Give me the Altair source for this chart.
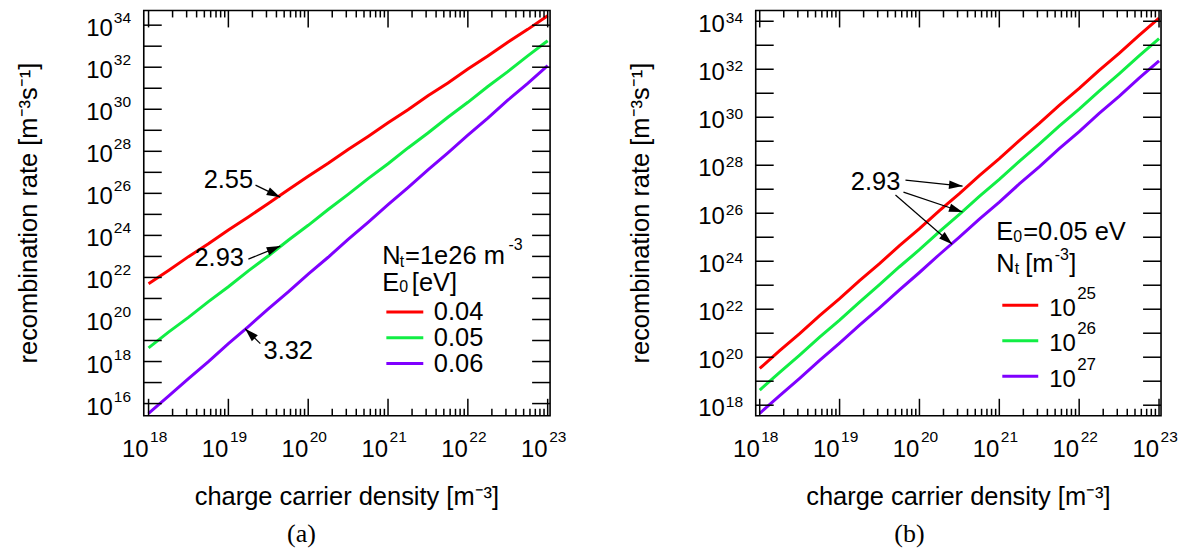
import math
import altair as alt
import pandas as pd

FONT = "Liberation Sans"
SERIF = "Liberation Serif"

# ---------------- data ----------------
# exponent (log10) of the charge carrier density at the computed points
log_density = [18.00, 18.25, 18.50, 18.75, 19.00, 19.25, 19.50, 19.75, 20.00, 20.25,
               20.50, 20.75, 21.00, 21.25, 21.50, 21.75, 22.00, 22.25, 22.50, 22.75, 23.00]

# panel (a): N_t = 1e26 m^-3, three values of E_0 (log10 of recombination rate)
a_series = ["0.04", "0.05", "0.06"]
a_rate_004 = [21.70, 22.33, 22.99, 23.60, 24.26, 24.88, 25.52, 26.17, 26.81, 27.43, 28.09,
              28.71, 29.36, 29.98, 30.64, 31.25, 31.91, 32.53, 33.19, 33.80, 34.45]
a_rate_005 = [18.65, 19.40, 20.10, 20.85, 21.56, 22.31, 23.02, 23.77, 24.48, 25.23, 25.95,
              26.70, 27.41, 28.16, 28.87, 29.62, 30.33, 31.08, 31.79, 32.54, 33.26]
a_rate_006 = [15.53, 16.35, 17.19, 18.00, 18.85, 19.66, 20.50, 21.31, 22.16, 22.96, 23.81,
              24.62, 25.46, 26.27, 27.12, 27.93, 28.77, 29.58, 30.43, 31.23, 32.07]

# panel (b): E_0 = 0.05 eV, three trap densities N_t
b_series = ["1e25", "1e26", "1e27"]
b_series_exp = ["25", "26", "27"]
b_rate_1e25 = [19.53, 20.27, 20.98, 21.73, 22.44, 23.19, 23.90, 24.65, 25.36, 26.11, 26.82,
               27.57, 28.28, 29.03, 29.74, 30.49, 31.20, 31.95, 32.66, 33.41, 34.13]
b_rate_1e26 = [18.63, 19.37, 20.09, 20.84, 21.55, 22.30, 23.02, 23.77, 24.48, 25.23, 25.95,
               26.70, 27.41, 28.16, 28.88, 29.63, 30.34, 31.09, 31.81, 32.56, 33.28]
b_rate_1e27 = [17.66, 18.40, 19.12, 19.87, 20.59, 21.34, 22.06, 22.81, 23.53, 24.28, 25.00,
               25.75, 26.46, 27.22, 27.93, 28.69, 29.40, 30.16, 30.87, 31.63, 32.35]

colors = ["#ff0000", "#11ee44", "#7f00ff"]

# tick values
x_decades = [18, 19, 20, 21, 22, 23]
x_minor_mult = [2, 3, 4, 5, 6, 7, 8, 9]
a_y_decades = [16, 17, 18, 19, 20, 21, 22, 23, 24, 25, 26, 27, 28, 29, 30, 31, 32, 33, 34]
a_y_label_decades = [16, 18, 20, 22, 24, 26, 28, 30, 32, 34]
b_y_decades = [18, 19, 20, 21, 22, 23, 24, 25, 26, 27, 28, 29, 30, 31, 32, 33, 34]
b_y_label_decades = [18, 20, 22, 24, 26, 28, 30, 32, 34]

# annotations (slopes) in log10 data coordinates
a_note_text = ["2.55", "2.93", "3.32"]
a_note_x = [19.00, 18.885, 19.75]
a_note_y = [26.63, 22.93, 18.52]
a_arrow_from_x = [19.34, 19.25, 19.40]
a_arrow_from_y = [26.39, 22.87, 18.85]
a_arrow_to_x = [19.65, 19.65, 19.21]
a_arrow_to_y = [25.82, 23.49, 19.56]

b_note_text = ["2.93"]
b_note_x = [19.45]
b_note_y = [27.29]
b_arrow_from_x = [19.825, 19.80, 19.70]
b_arrow_from_y = [27.38, 26.88, 26.76]
b_arrow_to_x = [20.54, 20.54, 20.41]
b_arrow_to_y = [27.13, 26.05, 24.71]

x_title = "charge carrier density [m\u207b\u00b3]"
y_title = "recombination rate [m\u207b\u00b3s\u207b\u00b9]"

# ---------------- layout constants ----------------
W_A, H_A = 407, 406
W_B, H_B = 406, 406
A_XDOM = (17.94, 23.03)
A_YDOM = (15.42, 34.70)
B_XDOM = (17.95, 23.025)
B_YDOM = (17.56, 34.45)
ARROW = "M0,0L-0.5,1.6L0.5,1.6Z"
TXT = 25.5
EXP = 15.5


def label(text, px, py, size=TXT, align="left", font=FONT, angle=0):
    return alt.Chart(pd.DataFrame({"t": [text]})).mark_text(
        align=align, baseline="alphabetic", fontSize=size, font=font, angle=angle, color="black"
    ).encode(x=alt.value(px), y=alt.value(py), text="t:N")


def swatch(color, x0, x1, y):
    return alt.Chart(pd.DataFrame({"c": [color]})).mark_rule(strokeWidth=3, color=color).encode(
        x=alt.value(x0), x2=alt.value(x1), y=alt.value(y))


def build_panel(W, H, xdom, ydom, names, rates, y_decades, y_label_decades,
                note_text, note_x, note_y, afx, afy, atx, aty, extra, exp_dy):
    xs = alt.Scale(type="log", domain=[10 ** xdom[0], 10 ** xdom[1]], nice=False)
    ys = alt.Scale(type="log", domain=[10 ** ydom[0], 10 ** ydom[1]], nice=False)

    def X(f="x"):
        return alt.X(f"{f}:Q", scale=xs, axis=None)

    def Y(f="y"):
        return alt.Y(f"{f}:Q", scale=ys, axis=None)

    rows = []
    for name, r in zip(names, rates):
        for ln, lr in zip(log_density, r):
            rows.append({"x": 10 ** ln, "y": 10 ** lr, "s": name})
    lines = alt.Chart(pd.DataFrame(rows)).mark_line(strokeWidth=3).encode(
        x=X(), y=Y(),
        color=alt.Color("s:N", scale=alt.Scale(domain=names, range=colors), legend=None))

    xmaj = pd.DataFrame({"x": [10.0 ** d for d in x_decades],
                         "b": ["10"] * len(x_decades),
                         "e": [str(d) for d in x_decades]})
    xmin = pd.DataFrame({"x": [m * 10.0 ** d for d in x_decades[:-1] for m in x_minor_mult]})
    ydf = pd.DataFrame({"y": [10.0 ** d for d in y_decades]})
    ylab = pd.DataFrame({"y": [10.0 ** d for d in y_label_decades],
                         "b": ["10"] * len(y_label_decades),
                         "e": [str(d) for d in y_label_decades]})

    tk = dict(color="black", strokeWidth=1.5)
    ticks = [
        alt.Chart(xmaj).mark_rule(**tk).encode(x=X(), y=alt.value(H), y2=alt.value(H - 17)),
        alt.Chart(xmaj).mark_rule(**tk).encode(x=X(), y=alt.value(0), y2=alt.value(17)),
        alt.Chart(xmin).mark_rule(**tk).encode(x=X(), y=alt.value(H), y2=alt.value(H - 7)),
        alt.Chart(xmin).mark_rule(**tk).encode(x=X(), y=alt.value(0), y2=alt.value(7)),
        alt.Chart(ydf).mark_rule(**tk).encode(y=Y(), x=alt.value(0), x2=alt.value(18)),
        alt.Chart(ydf).mark_rule(**tk).encode(y=Y(), x=alt.value(W), x2=alt.value(W - 18)),
    ]
    ticklabels = [
        alt.Chart(xmaj).mark_text(align="right", baseline="alphabetic", fontSize=24, font=FONT,
                                  color="black").encode(x=X(), y=alt.value(H + 41), text="b:N"),
        alt.Chart(xmaj).mark_text(align="left", baseline="alphabetic", fontSize=EXP, font=FONT,
                                  dx=1.5, color="black").encode(x=X(), y=alt.value(H + 26), text="e:N"),
        alt.Chart(ylab).mark_text(align="right", baseline="alphabetic", fontSize=24, font=FONT,
                                  dy=11, color="black").encode(y=Y(), x=alt.value(-31), text="b:N"),
        alt.Chart(ylab).mark_text(align="left", baseline="alphabetic", fontSize=EXP, font=FONT,
                                  dy=exp_dy, color="black").encode(y=Y(), x=alt.value(-30), text="e:N"),
    ]

    kx = W / (xdom[1] - xdom[0])
    ky = H / (ydom[1] - ydom[0])
    arows = []
    for fx, fy, tx, ty in zip(afx, afy, atx, aty):
        ang = math.degrees(math.atan2((tx - fx) * kx, (ty - fy) * ky)) % 360
        arows.append({"x": 10 ** fx, "y": 10 ** fy, "x2": 10 ** tx, "y2": 10 ** ty, "ang": ang})
    adf = pd.DataFrame(arows)
    shaft = alt.Chart(adf).mark_rule(color="black", strokeWidth=1.2).encode(
        x=X(), y=Y(), x2="x2:Q", y2="y2:Q")
    head = alt.Chart(adf).mark_point(shape=ARROW, filled=True, color="black", opacity=1,
                                     size=289, strokeWidth=0).encode(
        x=X("x2"), y=Y("y2"), angle=alt.Angle("ang:Q", scale=None))
    ndf = pd.DataFrame({"x": [10 ** v for v in note_x], "y": [10 ** v for v in note_y],
                        "t": note_text})
    notes = alt.Chart(ndf).mark_text(align="center", baseline="middle", fontSize=TXT, font=FONT,
                                     color="black").encode(x=X(), y=Y(), text="t:N")

    titles = [
        label(x_title, W / 2, H + 89, align="center"),
        label(y_title, -107, H / 2, align="center", angle=270),
    ]
    layers = [lines] + ticks + ticklabels + [shaft, head, notes] + titles + extra
    return alt.layer(*layers).properties(width=W, height=H)


# legend / caption of panel (a)
leg_a = [
    label("N", 239, 254),
    label("t", 256.4, 257, size=16),
    label("=1e26 m", 261.8, 254),
    label("-3", 365.3, 240, size=16),
    label("E", 239, 281.3),
    label("0", 256, 282, size=16),
    label("[eV]", 268.5, 281.3),
]
for i, (name, col) in enumerate(zip(a_series, colors)):
    yy = 302 + i * 25.8
    leg_a.append(swatch(col, 243, 280, yy))
    leg_a.append(label(name, 290.5, yy + 8.5))
leg_a.append(label("(a)", 158, H_A + 126, size=26, align="center", font=SERIF))

# legend / caption of panel (b)
leg_b = [
    label("E", 241, 230.3),
    label("0", 258, 231.5, size=16),
    label("=0.05 eV", 268, 230.3),
    label("N", 241, 262),
    label("t", 259.5, 264, size=16),
    label("[m", 270, 262),
    label("-3", 299.5, 250.3, size=16),
    label("]", 314, 262),
]
for i, (exp, col) in enumerate(zip(b_series_exp, colors)):
    yy = 295.3 + i * 35.6
    leg_b.append(swatch(col, 247, 283, yy))
    leg_b.append(label("10", 294, yy + 10.7, size=24))
    leg_b.append(label(exp, 322, yy - 6.6, size=17))
leg_b.append(label("(b)", 154, H_B + 126, size=26, align="center", font=SERIF))

panel_a = build_panel(W_A, H_A, A_XDOM, A_YDOM, a_series, [a_rate_004, a_rate_005, a_rate_006],
                      a_y_decades, a_y_label_decades, a_note_text, a_note_x, a_note_y,
                      a_arrow_from_x, a_arrow_from_y, a_arrow_to_x, a_arrow_to_y, leg_a, -2)
panel_b = build_panel(W_B, H_B, B_XDOM, B_YDOM, b_series, [b_rate_1e25, b_rate_1e26, b_rate_1e27],
                      b_y_decades, b_y_label_decades, b_note_text, b_note_x, b_note_y,
                      b_arrow_from_x, b_arrow_from_y, b_arrow_to_x, b_arrow_to_y, leg_b, 1.5)

chart = alt.hconcat(panel_a, panel_b, spacing=60).properties(
    padding={"left": 8, "top": 0, "right": 0, "bottom": 0}
).configure_view(stroke="black", strokeWidth=1.6)

chart.save("out.html", embed_options={"renderer": "svg", "actions": False})
